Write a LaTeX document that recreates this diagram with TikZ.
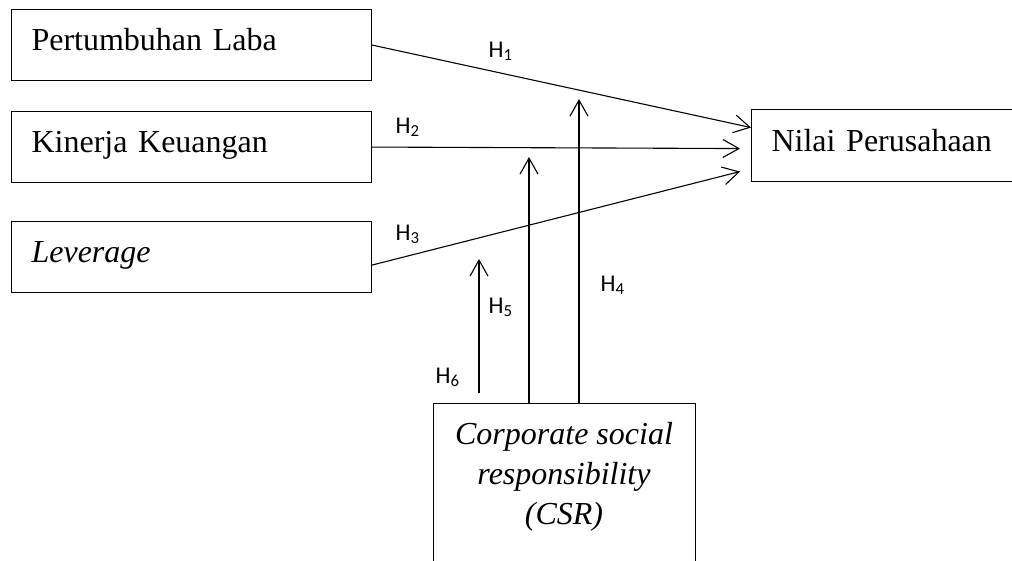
\documentclass[tikz,border=0pt]{standalone}
\usepackage{fontspec}
\setmainfont{Liberation Serif}
\newfontfamily\hfont{Carlito}
\usetikzlibrary{arrows.meta}

\begin{document}
\begin{tikzpicture}[x=1pt,y=-1pt,line width=1.1pt,
    box/.style={draw,anchor=north west,text width=320pt,inner xsep=20pt,
      minimum height=71pt,align=left,text height=22pt,text depth=11pt,
      font=\fontsize{32}{40}\selectfont},
    hyp/.style={anchor=base west,inner sep=0pt,font=\hfont\fontsize{24}{28}\selectfont},
    arr/.style={-{Straight Barb[length=16pt,width=18pt,line width=1.1pt]}}]
  \useasboundingbox (0,0) rectangle (1012,560);

  % variables
  \node[box] (laba) at (11,9) {Pertumbuhan Laba};
  \node[box] (kinerja) at (11,111) {Kinerja Keuangan};
  \node[box] (lev) at (11,221) {\textit{Leverage}};
  \node[box,text width=222pt,minimum height=72pt] (nilai) at (751,109) {Nilai Perusahaan};
  \node[draw,anchor=north west,minimum width=262pt,minimum height=165pt] (csr) at (433,403) {};
  \node[anchor=north,align=center,inner sep=0pt,
    font=\fontsize{32}{40}\selectfont\itshape] (csrtext) at (564,422)
    {Corporate social\\responsibility\\(CSR)};

  % direct effects
  \draw[arr] (laba.east) -- ([yshift=18pt]nilai.west);
  \draw[arr] (kinerja.east) -- ([xshift=-11pt,yshift=-3pt]nilai.west);
  \draw[arr] ([yshift=-8pt]lev.east) -- ([xshift=-11pt,yshift=-26pt]nilai.west);

  % moderation
  \coordinate (h4top) at (579,99);
  \coordinate (h5top) at (529,157);
  \coordinate (h6bot) at (479,393);
  \coordinate (h6top) at (479,259);
  \draw[arr] (csr.north -| h4top) -- (h4top);
  \draw[arr] (csr.north -| h5top) -- (h5top);
  \draw[arr] (h6bot) -- (h6top);

  % labels
  \node[hyp] (h1) at (488,57) {H\textsubscript{1}};
  \node[hyp] (h2) at (395,133) {H\textsubscript{2}};
  \node[hyp] (h3) at (395,240) {H\textsubscript{3}};
  \node[hyp] (h4) at (600,291) {H\textsubscript{4}};
  \node[hyp] (h5) at (488,313) {H\textsubscript{5}};
  \node[hyp] (h6) at (435,383) {H\textsubscript{6}};
\end{tikzpicture}
\end{document}
